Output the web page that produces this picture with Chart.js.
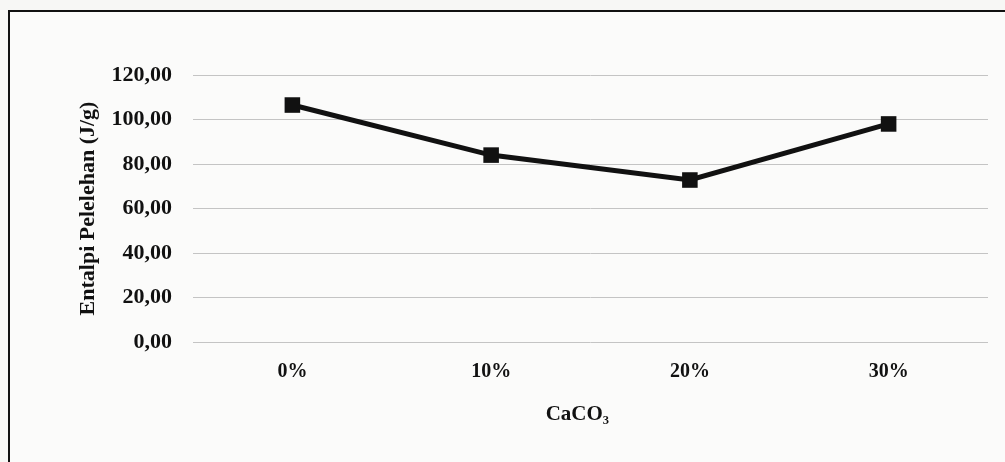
<!DOCTYPE html>
<html>
<head>
<meta charset="utf-8">
<script src="https://cdn.jsdelivr.net/npm/chart.js@4.4.1/dist/chart.umd.min.js"></script>
<style>
  html, body { margin: 0; padding: 0; background: #f7f7f5; }
  #wrap { position: relative; width: 1005px; height: 462px; overflow: hidden; }
  #frame { position: absolute; left: 8px; top: 10px; width: 1100px; height: 600px;
           border-left: 2px solid #111; border-top: 2px solid #111; background: #fbfbfa; }
  #chart { position: absolute; left: 0; top: 0; }
</style>
</head>
<body>
<div id="wrap">
  <div id="frame"></div>
  <canvas id="chart" width="1005" height="462"></canvas>
</div>
<script>
// CaCO3 content and melting enthalpy
const categories = ['0%', '10%', '20%', '30%'];
const enthalpy = [106.5, 84.0, 72.8, 98.0];
const yTicks = [0, 20, 40, 60, 80, 100, 120];

const serif = '"Liberation Serif", "Times New Roman", serif';

new Chart(document.getElementById('chart'), {
  type: 'line',
  data: {
    labels: categories,
    datasets: [{
      data: enthalpy,
      borderColor: '#111',
      backgroundColor: '#111',
      borderWidth: 5,
      pointStyle: 'rect',
      pointRadius: 11,
      pointHoverRadius: 11,
      pointBorderWidth: 0,
      tension: 0
    }]
  },
  options: {
    responsive: false,
    animation: false,
    devicePixelRatio: 1,
    layout: { padding: { top: 75, right: 17, left: 0, bottom: 0 } },
    plugins: { legend: { display: false }, tooltip: { enabled: false } },
    scales: {
      x: {
        offset: true,
        grid: { display: false, drawTicks: false },
        border: { display: false },
        ticks: { color: '#111', padding: 18, font: { family: serif, size: 20, weight: 'bold' } },
        title: {
          display: true, text: 'CaCO₃     ', color: '#111',
          font: { family: serif, size: 21, weight: 'bold' },
          padding: { top: 14, bottom: 35 }
        },
        afterFit: s => { s.height = 120; }
      },
      y: {
        min: 0, max: 120,
        afterBuildTicks: s => { s.ticks = yTicks.map(v => ({ value: v })); },
        grid: { color: '#c4c4c4', lineWidth: 1, drawTicks: false },
        border: { display: false },
        ticks: {
          color: '#111', padding: 21,
          font: { family: serif, size: 22, weight: 'bold' },
          callback: v => v.toFixed(2).replace('.', ',')
        },
        title: {
          display: true, text: 'Entalpi Pelelehan (J/g)', color: '#111',
          font: { family: serif, size: 22, weight: 'bold' },
          padding: { top: 75, bottom: 0 }
        },
        afterFit: s => { s.width = 193; }
      }
    }
  }
});
</script>
</body>
</html>
